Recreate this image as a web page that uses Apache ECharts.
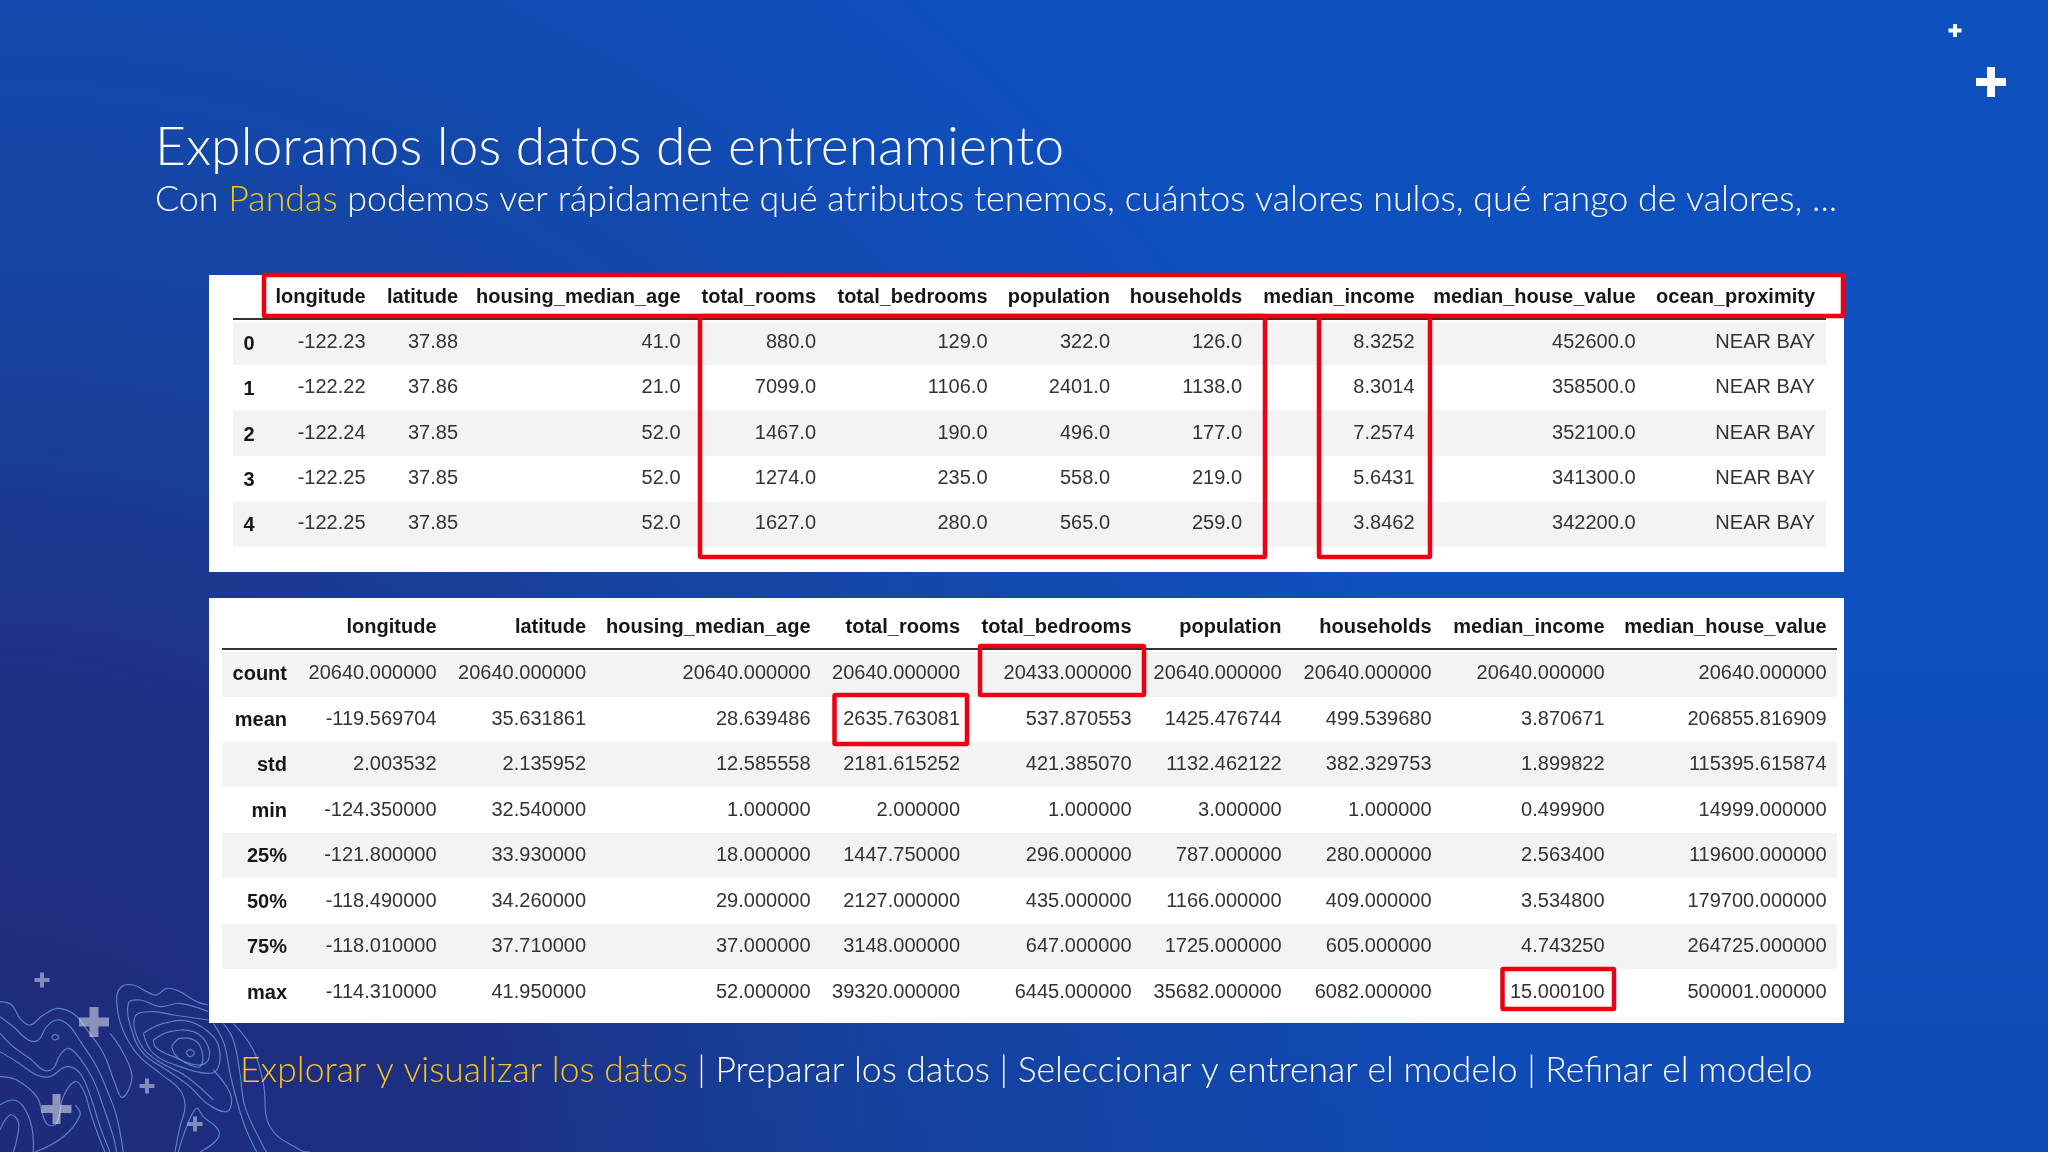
<!DOCTYPE html>
<html><head><meta charset="utf-8">
<style>html,body{margin:0;padding:0;background:#0e4fb8}#c{width:2048px;height:1152px}</style>
<script src="https://cdn.jsdelivr.net/npm/echarts@6/dist/echarts.min.js"></script>
</head><body><div id="c"></div>
<script>
// ---------- DATA ----------
const titleText = 'Exploramos los datos de entrenamiento';
const subtitleParts = ['Con ', 'Pandas', ' podemos ver rápidamente qué atributos tenemos, cuántos valores nulos, qué rango de valores, ...'];
const footerParts = ['Explorar y visualizar los datos', ' | Preparar los datos | Seleccionar y entrenar el modelo | Refinar el modelo'];

const headColumns = ['longitude','latitude','housing_median_age','total_rooms','total_bedrooms','population','households','median_income','median_house_value','ocean_proximity'];
const headIndex = ['0','1','2','3','4'];
const headRow0 = ['-122.23','37.88','41.0','880.0','129.0','322.0','126.0','8.3252','452600.0','NEAR BAY'];
const headRow1 = ['-122.22','37.86','21.0','7099.0','1106.0','2401.0','1138.0','8.3014','358500.0','NEAR BAY'];
const headRow2 = ['-122.24','37.85','52.0','1467.0','190.0','496.0','177.0','7.2574','352100.0','NEAR BAY'];
const headRow3 = ['-122.25','37.85','52.0','1274.0','235.0','558.0','219.0','5.6431','341300.0','NEAR BAY'];
const headRow4 = ['-122.25','37.85','52.0','1627.0','280.0','565.0','259.0','3.8462','342200.0','NEAR BAY'];

const descColumns = ['longitude','latitude','housing_median_age','total_rooms','total_bedrooms','population','households','median_income','median_house_value'];
const descIndex = ['count','mean','std','min','25%','50%','75%','max'];
const descCount = ['20640.000000','20640.000000','20640.000000','20640.000000','20433.000000','20640.000000','20640.000000','20640.000000','20640.000000'];
const descMean = ['-119.569704','35.631861','28.639486','2635.763081','537.870553','1425.476744','499.539680','3.870671','206855.816909'];
const descStd = ['2.003532','2.135952','12.585558','2181.615252','421.385070','1132.462122','382.329753','1.899822','115395.615874'];
const descMin = ['-124.350000','32.540000','1.000000','2.000000','1.000000','3.000000','1.000000','0.499900','14999.000000'];
const desc25 = ['-121.800000','33.930000','18.000000','1447.750000','296.000000','787.000000','280.000000','2.563400','119600.000000'];
const desc50 = ['-118.490000','34.260000','29.000000','2127.000000','435.000000','1166.000000','409.000000','3.534800','179700.000000'];
const desc75 = ['-118.010000','37.710000','37.000000','3148.000000','647.000000','1725.000000','605.000000','4.743250','264725.000000'];
const descMax = ['-114.310000','41.950000','52.000000','39320.000000','6445.000000','35682.000000','6082.000000','15.000100','500001.000000'];

const headRows = [headRow0, headRow1, headRow2, headRow3, headRow4];
const descRows = [descCount, descMean, descStd, descMin, desc25, desc50, desc75, descMax];

// ---------- LAYOUT (page pixels) ----------
const headRight = [365.5,458,680.5,816,987.5,1110,1242,1414.5,1635.5,1815];
const descRight = [436.5,586,810.5,960,1131.5,1281.5,1431.5,1604.5,1826.5];
const headRowY = [342,387.5,433,478.5,523.5];
const descRowY = [673,719,764,810,855,901,946,992];
const panels = [[209,275,1635,297],[209,598,1635,425]];
const stripes = [[233,322,1593,43],[233,410,1593,46],[233,502,1593,45],
                 [222,652,1615,45],[222,742,1615,45],[222,833,1615,45],[222,924,1615,45]];
const rules = [[233,319,1826,319],[222,649,1837,649]];
const redBoxes = [[264,275,1579,41],[700,316,565,241],[1319,316,111,241],[980,646,164,49],[834.5,695,132.5,49],[1502.5,969,111.5,40]];

const SANS = '"Liberation Sans", Arial, sans-serif';
const LIGHT = 'Lato, "Open Sans", sans-serif';

function rectSeries(name, rects, style, z) {
  return { type:'custom', name, coordinateSystem:'cartesian2d', silent:true, clip:false, z, animation:false,
    data: rects.map(r => [r[0], r[1], r[0]+r[2], r[1]+r[3]]),
    renderItem(p, api) {
      const a = api.coord([api.value(0), api.value(1)]), b = api.coord([api.value(2), api.value(3)]);
      return {type:'rect', shape:{x:a[0], y:a[1], width:b[0]-a[0], height:b[1]-a[1], r: style.r||0}, style:{fill:style.fill, stroke:style.stroke, lineWidth:style.lineWidth}};
    } };
}
function ruleSeries() {
  return { type:'custom', name:'rules', coordinateSystem:'cartesian2d', silent:true, clip:false, z:3, animation:false,
    data: rules,
    renderItem(p, api) {
      const a = api.coord([api.value(0), api.value(1)]), b = api.coord([api.value(2), api.value(3)]);
      return {type:'line', shape:{x1:a[0], y1:a[1], x2:b[0], y2:b[1]}, style:{stroke:'#333', lineWidth:2}};
    } };
}
function textSeries(name, cells) {
  return { type:'custom', name, coordinateSystem:'cartesian2d', silent:true, clip:false, z:4, animation:false,
    data: cells.map(c => [c.x, c.y]),
    renderItem(p, api) {
      const c = cells[p.dataIndex], a = api.coord([api.value(0), api.value(1)]);
      return {type:'text', style:{x:a[0], y:a[1], text:c.t, textAlign:'right', textVerticalAlign:'middle',
        fontFamily:SANS, fontSize:20, fontWeight:c.b?'bold':'normal', fill:c.b?'#161616':'#333333'}};
    } };
}
function tableCells(cols, idx, rows, rights, rowY, headY, idxRight, idxShift) {
  const out = [];
  cols.forEach((t,i) => out.push({t, x:rights[i], y:headY, b:true}));
  idx.forEach((t,r) => {
    out.push({t, x:idxRight, y:rowY[r]+idxShift, b:true});
    rows[r].forEach((v,i) => out.push({t:v, x:rights[i], y:rowY[r]}));
  });
  return out;
}

// ---------- DECORATION ----------
function plus(cx, cy, arm, th, fill, op) {
  const a = arm, t = th/2;
  return {type:'polygon', z:1, silent:true, shape:{points:[[cx-t,cy-a],[cx+t,cy-a],[cx+t,cy-t],[cx+a,cy-t],[cx+a,cy+t],[cx+t,cy+t],[cx+t,cy+a],[cx-t,cy+a],[cx-t,cy+t],[cx-a,cy+t],[cx-a,cy-t],[cx-t,cy-t]]}, style:{fill, opacity:op}};
}
const contourLines = [
 [[0,185],[35,195],[60,235],[90,255],[130,225],[175,205],[225,225],[265,275],[310,340],[345,430],[365,472],[388,445],[395,400],[365,330],[330,280]],
 [[0,230],[40,260],[85,300],[115,300],[140,260],[170,240],[205,255],[245,310],[290,380],[325,460],[350,530],[370,636]],
 [[0,280],[40,320],[95,360],[130,390],[160,385],[180,345],[205,325],[240,355],[280,420],[310,500],[340,590],[350,636]],
 [[0,335],[50,365],[110,405],[150,410],[200,380],[240,400],[275,480],[300,560],[330,636]],
 [[0,410],[50,420],[110,470],[130,530],[145,555],[170,550],[190,470],[225,425],[250,450],[275,530],[300,600],[315,636]],
 [[0,495],[40,480],[70,500],[95,560],[100,636]],
 [[0,570],[30,525],[55,545],[50,600],[40,636]],
 [[105,636],[190,590],[240,525],[225,495]],
 [[625,195],[590,185],[540,155],[500,145],[470,165],[440,155],[400,135],[365,140],[350,175],[365,260],[410,340],[480,400],[540,450],[555,500],[540,560],[525,636]],
 [[625,215],[540,190],[480,200],[420,180],[385,190],[395,270],[430,340],[500,390],[570,440],[620,490],[680,515],[695,480],[680,440],[640,390]],
 [[625,240],[520,225],[460,215],[405,230],[420,310],[470,360],[560,410],[640,480]],
 [[430,280],[490,250],[570,245],[640,290],[660,340],[650,390],[620,400],[540,380],[460,340],[430,280]],
 [[460,300],[510,275],[580,275],[620,310],[625,360],[590,375],[520,350],[470,325],[460,300]],
 [[515,320],[540,295],[590,305],[608,345],[600,380],[570,375],[530,350],[515,320]],
 [[670,250],[700,300],[720,400],[735,500],[790,620],[800,636]],
 [[700,250],[760,330],[790,430],[810,560],[900,630],[930,636]],
 [[640,250],[672,310],[690,400],[710,480],[735,560],[770,636]],
 [[600,636],[650,600],[655,570],[610,530],[590,505],[560,560],[535,636]],
 [[155,292],[165,283],[177,292],[165,300],[155,292]],
 [[558,338],[570,328],[583,340],[570,350],[558,338]]
];
const contourEls = contourLines.map(l => ({type:'polyline', z:1, silent:true,
  shape:{points:l.map(p => [p[0]/3, 940+p[1]/3]), smooth:0.4},
  style:{stroke:'#6fa6e0', lineWidth:1.2, fill:null, opacity:0.7}}));

const graphics = [
  {type:'rect', z:-5, silent:true, shape:{x:0,y:0,width:2048,height:1152},
   style:{fill:{type:'radial',global:true,x:0,y:1152,r:1500,colorStops:[{offset:0,color:'#202a78'},{offset:0.3,color:'#1f3084'},{offset:0.55,color:'#16439e'},{offset:1,color:'#0f50bf'}]}}},
  {type:'rect', z:-4, silent:true, shape:{x:0,y:576,width:2048,height:576},
   style:{fill:{type:'linear',x:0,y:0,x2:0,y2:1,colorStops:[{offset:0,color:'rgba(20,45,130,0)'},{offset:1,color:'rgba(20,45,130,0.15)'}]}}},
  ...contourEls,
  plus(1955,30.5,6.5,4,'#fff',1), plus(1991,82,15,8,'#fff',1),
  plus(42,980,7.5,4,'#fff',.45), plus(94,1022,15,9,'#fff',.48), plus(147,1086,7.5,4,'#fff',.45),
  plus(56.5,1109,15,8,'#fff',.5), plus(195,1124,7.5,4,'#fff',.45),
  {type:'text', z:5, silent:true, style:{x:155, y:148, text:titleText, textVerticalAlign:'middle', fontFamily:LIGHT, fontWeight:300, fontSize:53.5, fill:'#fff'}},
  {type:'text', z:5, silent:true, style:{x:155, y:199, textVerticalAlign:'middle',
    text:'{w|'+subtitleParts[0]+'}{y|'+subtitleParts[1]+'}{w|'+subtitleParts[2]+'}',
    rich:{w:{fontFamily:LIGHT,fontWeight:300,fontSize:35.8,fill:'#fff'},y:{fontFamily:LIGHT,fontWeight:300,fontSize:35.8,fill:'#f7c41a'}}}},
  {type:'text', z:5, silent:true, style:{x:240, y:1071, textVerticalAlign:'middle',
    text:'{y|'+footerParts[0]+'}{w|'+footerParts[1]+'}',
    rich:{w:{fontFamily:LIGHT,fontWeight:300,fontSize:35.5,fill:'#fff'},y:{fontFamily:LIGHT,fontWeight:300,fontSize:35.5,fill:'#f7c41a'}}}}
];

const chart = echarts.init(document.getElementById('c'), null, {renderer:'canvas', width:2048, height:1152});
chart.setOption({
  animation:false,
  grid:{left:0,right:0,top:0,bottom:0},
  xAxis:{type:'value',min:0,max:2048,show:false},
  yAxis:{type:'value',min:0,max:1152,inverse:true,show:false},
  graphic:{elements:graphics},
  series:[
    rectSeries('panels', panels, {fill:'#fff'}, 2),
    rectSeries('stripes', stripes, {fill:'#f3f3f4'}, 2.5),
    ruleSeries(),
    textSeries('head', tableCells(headColumns, headIndex, headRows, headRight, headRowY, 297, 254.5, 2)),
    textSeries('describe', tableCells(descColumns, descIndex, descRows, descRight, descRowY, 627.5, 287, 1)),
    rectSeries('highlights', redBoxes, {fill:'transparent', stroke:'#ee0010', lineWidth:4.5, r:1}, 6)
  ]
});
</script></body></html>
